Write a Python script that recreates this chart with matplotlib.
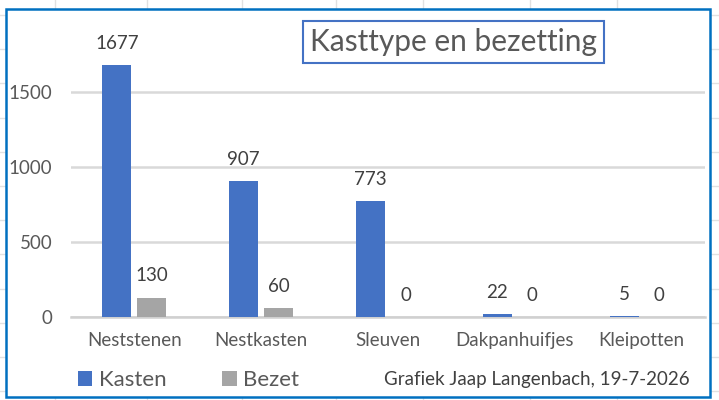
import matplotlib
matplotlib.use('Agg')
import matplotlib.pyplot as plt
from matplotlib.lines import Line2D
from matplotlib.patches import Rectangle
import numpy as np

plt.rcParams['font.family'] = ['Lato', 'DejaVu Sans']

categories = ['Neststenen', 'Nestkasten', 'Sleuven', 'Dakpanhuifjes', 'Kleipotten']
kasten = [1677, 907, 773, 22, 5]
bezet = [130, 60, 0, 0, 0]
y_ticks = [0, 500, 1000, 1500]
title = 'Kasttype en bezetting'
credit = 'Grafiek Jaap Langenbach, 19-7-2026'

W, H = 719, 400
blue = '#4472C4'
grey = '#A5A5A5'
text_col = '#595959'

fig = plt.figure(figsize=(W / 100, H / 100), dpi=100)
fig.patch.set_facecolor('white')

def fx(px):
    return px / W

def fy(py):
    return 1 - py / H

# spreadsheet cell lines behind the chart
sheet_col = '#E1E1E1'
for py in np.arange(15, 400, 34.2):
    fig.add_artist(Line2D([0, 1], [fy(py), fy(py)], color=sheet_col, lw=1, zorder=0))
for px in [55, 147, 242, 336, 423, 530, 617]:
    fig.add_artist(Line2D([fx(px), fx(px)], [0, 1], color=sheet_col, lw=1, zorder=0))

# chart area with blue border
fig.add_artist(Rectangle((fx(6), fy(397)), fx(710) - fx(6), fy(9) - fy(397),
                         transform=fig.transFigure, facecolor='white',
                         edgecolor='#0070C0', lw=1.8, zorder=1))

ax = fig.add_axes([fx(71), fy(317), fx(705) - fx(71), fy(11) - fy(317)])
ax.set_zorder(2)
ax.patch.set_alpha(0)

x = np.arange(len(categories))
bw = 0.228
off = 0.138
ax.bar(x - off, kasten, bw, color=blue, label='Kasten', zorder=3)
ax.bar(x + off, bezet, bw, color=grey, label='Bezet', zorder=3)

for xi, v in zip(x, kasten):
    ax.text(xi - off, v + 88, str(v), ha='center', va='bottom', fontsize=13.5, color='#404040')
for xi, v in zip(x, bezet):
    ax.text(xi + off, v + 88, str(v), ha='center', va='bottom', fontsize=13.5, color='#404040')

ax.set_xlim(-0.5, len(categories) - 0.5)
ax.set_ylim(0, 2040)
ax.set_yticks(y_ticks)
ax.yaxis.grid(True, color='#D9D9D9', lw=1.8, zorder=0)
ax.set_axisbelow(True)
for s in ['top', 'right', 'left']:
    ax.spines[s].set_visible(False)
ax.spines['bottom'].set_color('#D0D0D0')
ax.spines['bottom'].set_linewidth(1.8)
ax.tick_params(axis='both', length=0, labelsize=13.5, labelcolor=text_col)
ax.tick_params(axis='y', pad=13.5)
ax.tick_params(axis='x', pad=11)
ax.set_xticks(x)
ax.set_xticklabels(categories)

# title in a box
fig.text(fx(453.5), fy(42), title, ha='center', va='center', fontsize=21.5, color=text_col,
         bbox=dict(boxstyle='square,pad=0.22', facecolor='white', edgecolor=blue, lw=1.5),
         zorder=5)

leg = fig.legend(loc='center left', bbox_to_anchor=(fx(58), fy(380)), ncol=2, frameon=False,
                 fontsize=16, handlelength=0.65, handleheight=0.65, handletextpad=0.3,
                 columnspacing=2.5, labelcolor=text_col)

fig.text(fx(690), fy(379), credit, ha='right', va='center', fontsize=13.5, color='#404040')

fig.savefig('out.png', dpi=100)
